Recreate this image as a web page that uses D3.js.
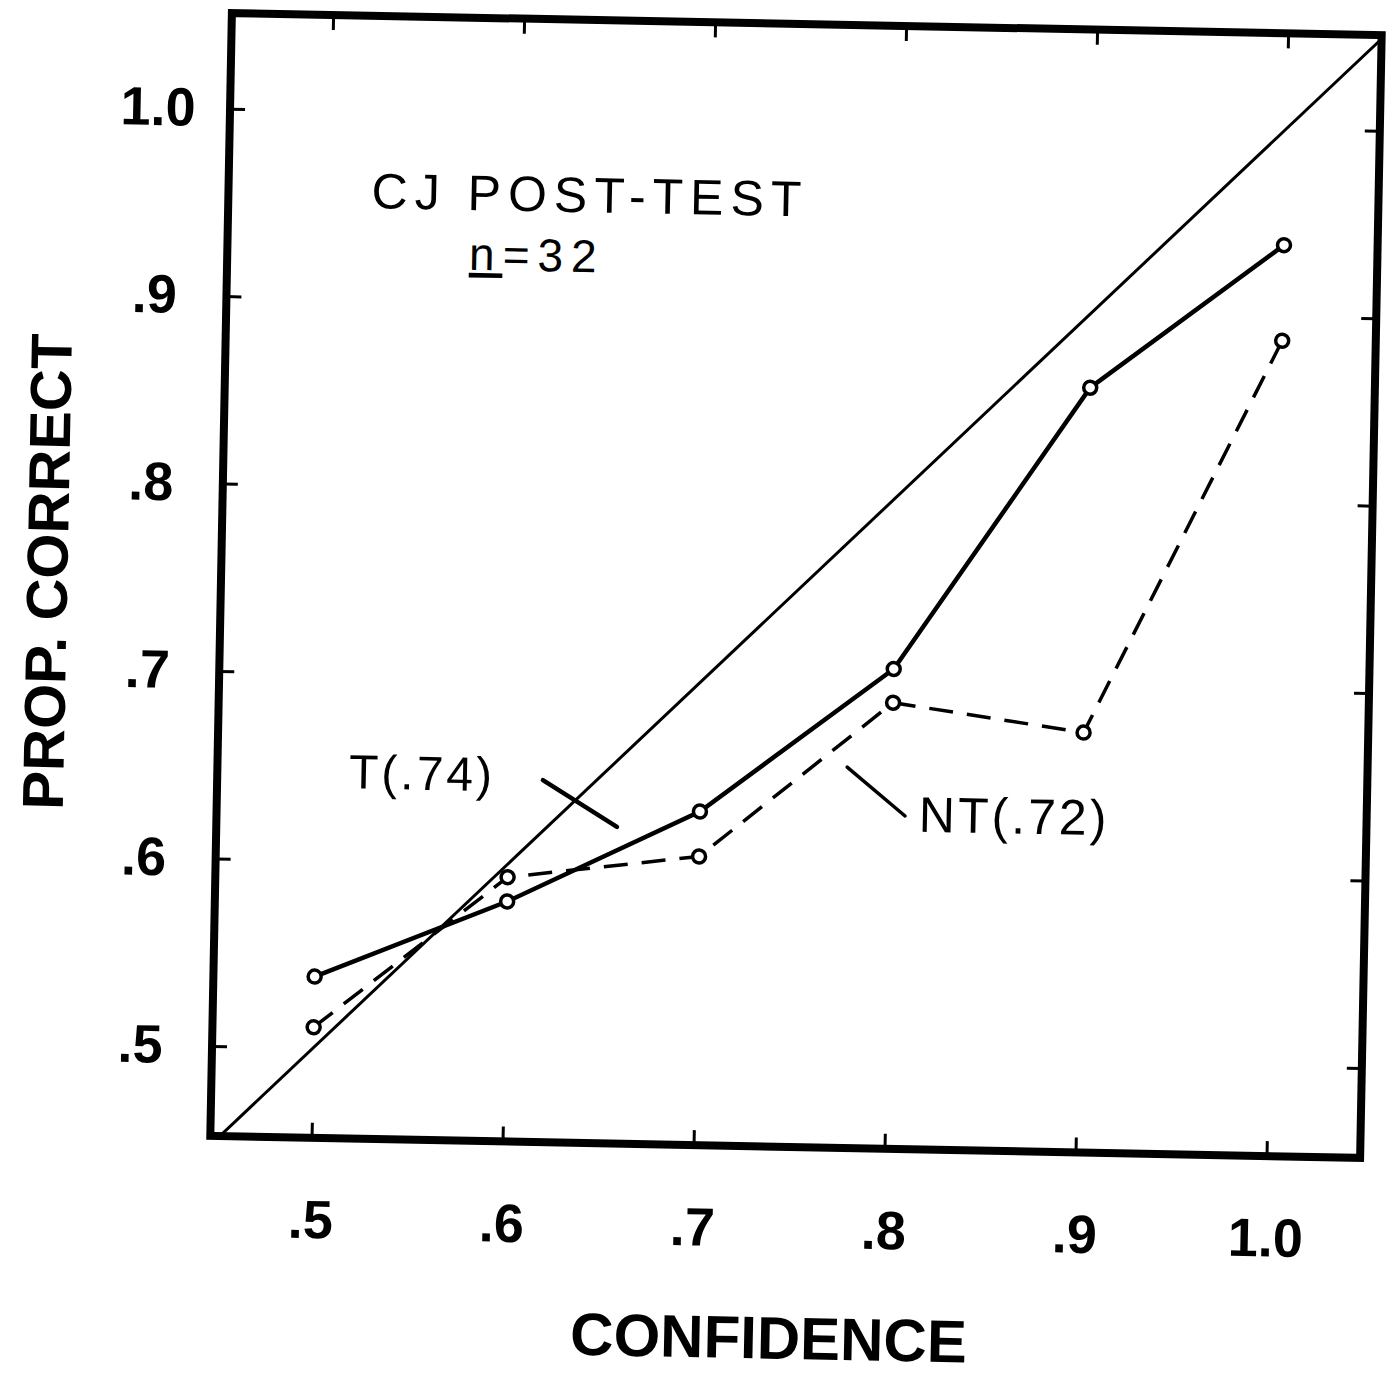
<!DOCTYPE html>
<head>
  <meta charset="utf-8">
  <script src="https://d3js.org/d3.v7.min.js"></script>
  <style>
    body { margin: 0; background: #fff; }
  </style>
</head>

<body>
  <div id="chart"></div>
</body>

<script>

// data
var confidence = [0.5, 0.6, 0.7, 0.8, 0.9, 1.0];
var tValues  = [0.538, 0.580, 0.630, 0.708, 0.860, 0.938];   // T (.74), solid
var ntValues = [0.511, 0.593, 0.606, 0.690, 0.676, 0.887];   // NT (.72), dashed
var tickValues = [0.5, 0.6, 0.7, 0.8, 0.9, 1.0];
var tickLabels = [".5", ".6", ".7", ".8", ".9", "1.0"];

// frame of the plot (before the slight scan rotation)
var W = 1393, H = 1378;
var frameLeft = 221, frameRight = 1371, frameTop = 24, frameBottom = 1147;

var svg = d3.select("#chart")
  .append("svg")
    .attr("width", W)
    .attr("height", H);

// the scanned figure sits a little tilted
var g = svg.append("g")
  .attr("transform", "rotate(1.1, 796, 585)");

var x = d3.scaleLinear()
  .domain([0.447, 1.049])
  .range([frameLeft, frameRight]);

var y = d3.scaleLinear()
  .domain([0.452, 1.051])
  .range([frameBottom, frameTop]);

var fmt = function (d) { return tickLabels[tickValues.indexOf(d)]; };

g.append("clipPath").attr("id", "plotclip")
  .append("rect")
    .attr("x", frameLeft).attr("y", frameTop)
    .attr("width", frameRight - frameLeft).attr("height", frameBottom - frameTop);

// axes: inward ticks on all four sides
var xb = g.append("g")
  .attr("transform", "translate(0," + frameBottom + ")")
  .call(d3.axisBottom(x).tickValues(tickValues).tickSize(-15).tickPadding(62).tickFormat(fmt));

var yl = g.append("g")
  .attr("transform", "translate(" + frameLeft + ",0)")
  .call(d3.axisLeft(y).tickValues(tickValues).tickSize(-15).tickPadding(72).tickFormat(fmt));

var xt = g.append("g")
  .attr("transform", "translate(0," + frameTop + ")")
  .call(d3.axisTop(x).tickValues(tickValues).tickSize(-15).tickFormat(""));

var yr = g.append("g")
  .attr("transform", "translate(" + frameRight + ",0)")
  .call(d3.axisRight(y).tickValues(tickValues).tickSize(-15).tickFormat(""));

[xb, yl, xt, yr].forEach(function (a) {
  a.select(".domain").remove();
  a.selectAll(".tick line").attr("stroke", "#000").attr("stroke-width", 3);
  a.selectAll(".tick text")
    .attr("fill", "#000")
    .style("font-family", "'Liberation Sans', Arial, sans-serif")
    .style("font-weight", "bold")
    .style("font-size", "54px");
});
// y labels sit centred under each other
yl.selectAll(".tick text").attr("text-anchor", "middle");

// frame
g.append("rect")
  .attr("x", frameLeft).attr("y", frameTop)
  .attr("width", frameRight - frameLeft).attr("height", frameBottom - frameTop)
  .attr("fill", "none")
  .attr("stroke", "#000")
  .attr("stroke-width", 8);

var plot = g.append("g").attr("clip-path", "url(#plotclip)");

// identity line
plot.append("line")
  .attr("x1", x(0.44)).attr("y1", y(0.44))
  .attr("x2", x(1.06)).attr("y2", y(1.06))
  .attr("stroke", "#000")
  .attr("stroke-width", 3);

var line = d3.line()
  .x(function (d) { return x(d[0]); })
  .y(function (d) { return y(d[1]); });

var tData = d3.zip(confidence, tValues);
var ntData = d3.zip(confidence, ntValues);

plot.append("path")
  .datum(ntData)
  .attr("d", line)
  .attr("fill", "none")
  .attr("stroke", "#000")
  .attr("stroke-width", 3.5)
  .attr("stroke-dasharray", "24,14");

plot.append("path")
  .datum(tData)
  .attr("d", line)
  .attr("fill", "none")
  .attr("stroke", "#000")
  .attr("stroke-width", 4.5);

plot.append("g")
  .selectAll("circle")
  .data(tData.concat(ntData))
  .enter()
  .append("circle")
    .attr("cx", function (d) { return x(d[0]); })
    .attr("cy", function (d) { return y(d[1]); })
    .attr("r", 6.5)
    .attr("fill", "#fff")
    .attr("stroke", "#000")
    .attr("stroke-width", 3.5);

// annotations
var txt = function (sel) {
  return sel.attr("fill", "#000")
    .style("font-family", "'Liberation Sans', Arial, sans-serif");
};

g.append("text")
  .attr("x", x(0.6363)).attr("y", y(0.9577))
  .attr("dy", "0.35em")
  .attr("text-anchor", "middle")
  .style("font-size", "50px")
  .style("letter-spacing", "7px")
  .text("CJ POST-TEST")
  .call(txt);

var nText = g.append("text")
  .attr("x", x(0.6091)).attr("y", y(0.9251))
  .attr("dy", "0.35em")
  .attr("text-anchor", "middle")
  .style("font-size", "46px")
  .style("letter-spacing", "8px")
  .call(txt);
nText.append("tspan").style("text-decoration", "underline").text("n");
nText.append("tspan").text("=32");

g.append("text")
  .attr("x", x(0.5542)).attr("y", y(0.6477))
  .attr("dy", "0.35em")
  .attr("text-anchor", "middle")
  .style("font-size", "48px")
  .style("letter-spacing", "3px")
  .text("T(.74)")
  .call(txt);

g.append("line")
  .attr("x1", x(0.6175)).attr("y1", y(0.6451))
  .attr("x2", x(0.6567)).attr("y2", y(0.6209))
  .attr("stroke", "#000").attr("stroke-width", 4.5)
  .attr("stroke-linecap", "round");

g.append("text")
  .attr("x", x(0.8645)).attr("y", y(0.6308))
  .attr("dy", "0.35em")
  .attr("text-anchor", "middle")
  .style("font-size", "50px")
  .style("letter-spacing", "3px")
  .text("NT(.72)")
  .call(txt);

g.append("line")
  .attr("x1", x(0.7766)).attr("y1", y(0.6552))
  .attr("x2", x(0.8074)).attr("y2", y(0.6297))
  .attr("stroke", "#000").attr("stroke-width", 3.5)
  .attr("stroke-linecap", "round");

// axis titles
g.append("text")
  .attr("x", 783).attr("y", 1338)
  .attr("dy", "0.35em")
  .attr("text-anchor", "middle")
  .style("font-size", "60px")
  .style("font-weight", "bold")
  .text("CONFIDENCE")
  .call(txt);

g.append("text")
  .attr("transform", "translate(47,586) rotate(-90)")
  .attr("dy", "0.35em")
  .attr("text-anchor", "middle")
  .style("font-size", "58px")
  .style("font-weight", "bold")
  .text("PROP. CORRECT")
  .call(txt);

</script>
